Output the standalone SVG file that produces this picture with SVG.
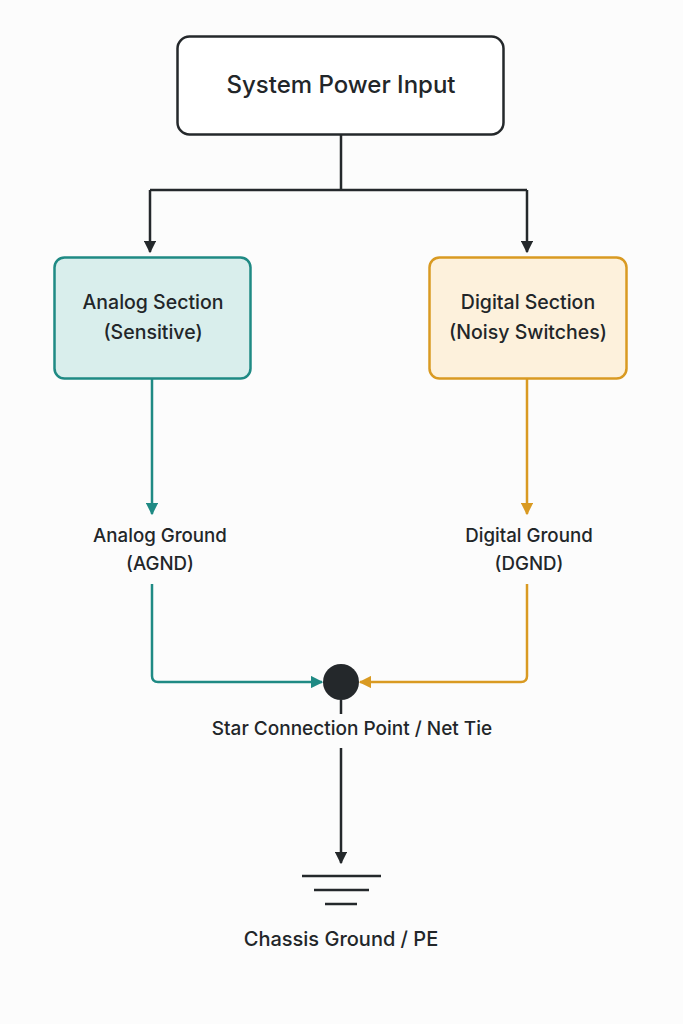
<svg xmlns="http://www.w3.org/2000/svg" width="683" height="1024" viewBox="0 0 683 1024">
<defs>
<style>
text{font-family:Inter,"Noto Sans","Liberation Sans",sans-serif;fill:#222629;text-anchor:middle;font-weight:500}
.t1{font-size:24px}
.t2{font-size:19.5px}
.t3{font-size:18.7px}
.t4{font-size:19px}
.t5{font-size:20px}
.dk{stroke:#24282b;stroke-width:2.5;fill:none}
.tl{stroke:#1f8a84;stroke-width:2.5;fill:none}
.am{stroke:#d99a22;stroke-width:2.5;fill:none}
</style>
<marker id="aDk" viewBox="0 0 10 10" refX="9" refY="5" markerWidth="5" markerHeight="5" orient="auto" markerUnits="strokeWidth"><path d="M0,0 L10,5 L0,10 z" fill="#24282b"/></marker>
<marker id="aTl" viewBox="0 0 10 10" refX="9" refY="5" markerWidth="5" markerHeight="5" orient="auto" markerUnits="strokeWidth"><path d="M0,0 L10,5 L0,10 z" fill="#1f8a84"/></marker>
<marker id="aAm" viewBox="0 0 10 10" refX="9" refY="5" markerWidth="5" markerHeight="5" orient="auto" markerUnits="strokeWidth"><path d="M0,0 L10,5 L0,10 z" fill="#d99a22"/></marker>
</defs>
<rect width="683" height="1024" fill="#fcfcfc"/>
<g id="connectors">
<path class="dk" d="M341,135 V190 M150,190 H527"/>
<path class="dk" d="M150,190 V252" marker-end="url(#aDk)"/>
<path class="dk" d="M527,190 V252" marker-end="url(#aDk)"/>
<path class="tl" d="M152,379 V514" marker-end="url(#aTl)"/>
<path class="am" d="M527,379 V514" marker-end="url(#aAm)"/>
<path class="tl" d="M152,584 V676 Q152,682 158,682 H322" marker-end="url(#aTl)"/>
<path class="am" d="M527,584 V676 Q527,682 521,682 H360" marker-end="url(#aAm)"/>
<path class="dk" d="M341,700 V714"/>
<path class="dk" d="M341,748 V863" marker-end="url(#aDk)"/>
</g>
<g id="power">
<rect x="177.5" y="36.5" width="326" height="98" rx="12" fill="#ffffff" stroke="#24282b" stroke-width="2.5"/>
<text class="t1" x="341" y="93">System Power Input</text>
</g>
<g id="analog">
<rect x="54.5" y="257.5" width="196" height="121" rx="10" fill="#d9eeec" stroke="#1f8a84" stroke-width="2.5"/>
<text class="t2" x="153" y="309">Analog Section</text>
<text class="t2" x="153" y="339">(Sensitive)</text>
</g>
<g id="digital">
<rect x="429.5" y="257.5" width="197" height="121" rx="10" fill="#fdf1dc" stroke="#d99a22" stroke-width="2.5"/>
<text class="t2" x="528" y="309">Digital Section</text>
<text class="t2" x="528" y="339">(Noisy Switches)</text>
</g>
<g id="agnd">
<text class="t3" x="160" y="542">Analog Ground</text>
<text class="t3" x="160" y="570">(AGND)</text>
</g>
<g id="dgnd">
<text class="t3" x="529" y="542">Digital Ground</text>
<text class="t3" x="529" y="570">(DGND)</text>
</g>
<g id="star">
<circle cx="341" cy="682" r="18" fill="#24282b"/>
<text class="t4" x="352" y="735">Star Connection Point / Net Tie</text>
</g>
<g id="chassis">
<path class="dk" d="M302,876 H381 M314,890 H369 M325,904 H357"/>
<text class="t5" x="341" y="946">Chassis Ground / PE</text>
</g>
</svg>
